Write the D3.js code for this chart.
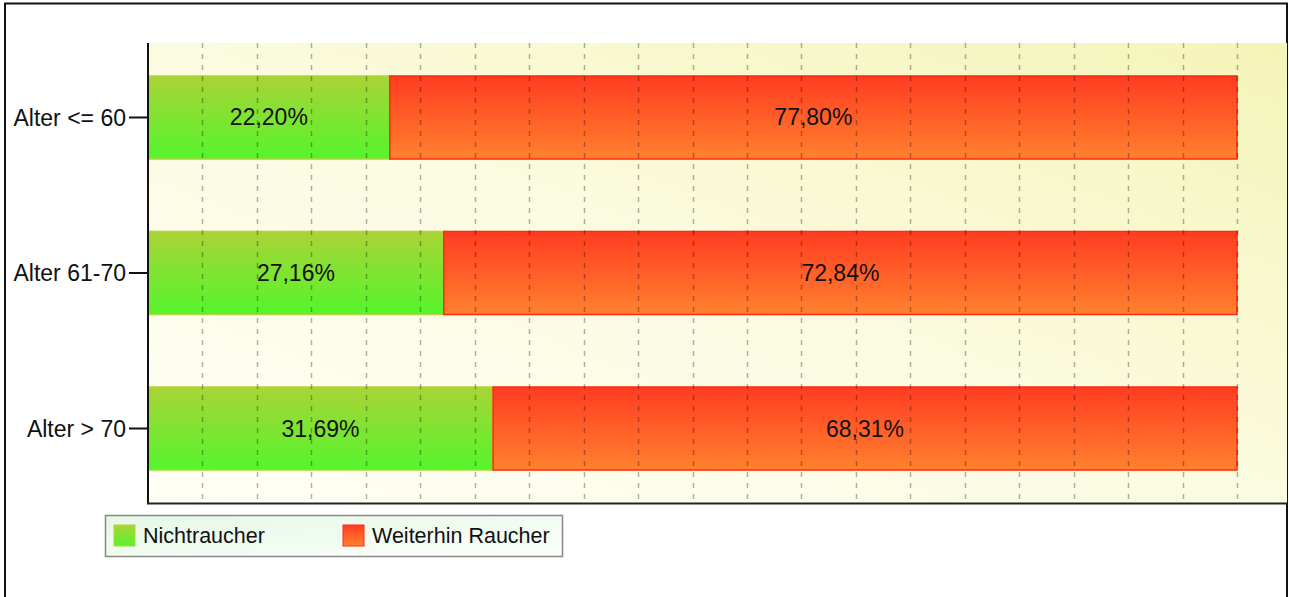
<!DOCTYPE html>
<html>
<head>
<meta charset="utf-8">
<script src="https://cdnjs.cloudflare.com/ajax/libs/d3/7.8.5/d3.min.js"></script>
<style>
  body { margin: 0; background: #fff; }
  text { font-family: "Liberation Sans", Arial, sans-serif; }
</style>
</head>
<body>
<script>
const categories = ["Alter <= 60", "Alter 61-70", "Alter > 70"]; //Rows, top to bottom.
const seriesNames = ["Nichtraucher", "Weiterhin Raucher"];
const nichtraucher = [22.20, 27.16, 31.69];
const weiterhinRaucher = [77.80, 72.84, 68.31];
const gridTicks = [5, 10, 15, 20, 25, 30, 35, 40, 45, 50, 55, 60, 65, 70, 75, 80, 85, 90, 95, 100];

const svgWidth = 1289;
const svgHeight = 597;
const plotLeft = 148;
const plotRight = 1287;
const plotTop = 43;
const plotBottom = 503;

const fmt = v => d3.format(".2f")(v).replace(".", ",") + "%";

let svg = d3.select("body").append("svg")
  .attr("width", svgWidth)
  .attr("height", svgHeight);

let defs = svg.append("defs");

//Background of the plot area, cream to yellow towards top right.
let bg = defs.append("linearGradient").attr("id", "bg")
  .attr("x1", "0").attr("y1", "1").attr("x2", "1").attr("y2", "0");
bg.append("stop").attr("offset", "0").attr("stop-color", "#fffff6");
bg.append("stop").attr("offset", "0.5").attr("stop-color", "#fbfbe0");
bg.append("stop").attr("offset", "1").attr("stop-color", "#f4f4b8");

let gGreen = defs.append("linearGradient").attr("id", "gGreen")
  .attr("x1", "0").attr("y1", "0").attr("x2", "0").attr("y2", "1");
gGreen.append("stop").attr("offset", "0").attr("stop-color", "#a9d336");
gGreen.append("stop").attr("offset", "1").attr("stop-color", "#55f52c");

let gRed = defs.append("linearGradient").attr("id", "gRed")
  .attr("x1", "0").attr("y1", "0").attr("x2", "0").attr("y2", "1");
gRed.append("stop").attr("offset", "0").attr("stop-color", "#ff3c22");
gRed.append("stop").attr("offset", "1").attr("stop-color", "#ff812e");

let legendBg = defs.append("linearGradient").attr("id", "legendBg")
  .attr("x1", "0").attr("y1", "0").attr("x2", "1").attr("y2", "1");
legendBg.append("stop").attr("offset", "0").attr("stop-color", "#e6f8e6");
legendBg.append("stop").attr("offset", "1").attr("stop-color", "#fbfffb");

//Scales.
let xScale = d3.scaleLinear()
  .domain([0, 100])
  .range([plotLeft, 1237]);

let yScale = d3.scaleBand()
  .domain(categories)
  .range([plotTop, plotBottom])
  .paddingInner(0.466)
  .paddingOuter(0.212);

//Outer frame.
svg.append("rect")
  .attr("x", 5).attr("y", 3.5)
  .attr("width", 1282).attr("height", 620)
  .attr("fill", "#fff")
  .attr("stroke", "#111")
  .attr("stroke-width", 2);

//Plot background.
svg.append("rect")
  .attr("x", plotLeft).attr("y", plotTop)
  .attr("width", plotRight - plotLeft).attr("height", plotBottom - plotTop)
  .attr("fill", "url(#bg)");

//Stacked bars.
const series = [
  { name: seriesNames[0], values: nichtraucher, start: categories.map(() => 0), fill: "url(#gGreen)", stroke: "#b3d43a" },
  { name: seriesNames[1], values: weiterhinRaucher, start: nichtraucher, fill: "url(#gRed)", stroke: "#ff2a12" }
];

series.forEach(function(s) {
  let g = svg.append("g");
  g.selectAll("rect")
    .data(categories)
    .enter()
    .append("rect")
    .attr("x", (d, i) => xScale(s.start[i]))
    .attr("y", d => yScale(d))
    .attr("width", (d, i) => xScale(s.start[i] + s.values[i]) - xScale(s.start[i]))
    .attr("height", yScale.bandwidth())
    .attr("fill", s.fill)
    .attr("stroke", s.stroke)
    .attr("stroke-width", 1.5);
});

//Dashed grid lines, drawn over the bars.
svg.append("g")
  .selectAll("line")
  .data(gridTicks)
  .enter()
  .append("line")
  .attr("x1", d => Math.round(xScale(d)) + 0.5)
  .attr("x2", d => Math.round(xScale(d)) + 0.5)
  .attr("y1", plotTop)
  .attr("y2", plotBottom)
  .attr("stroke", "#000")
  .attr("stroke-opacity", 0.3)
  .attr("stroke-width", 1.5)
  .attr("stroke-dasharray", "5,6");

//Percent labels in the middle of each segment.
series.forEach(function(s) {
  svg.append("g")
    .selectAll("text")
    .data(categories)
    .enter()
    .append("text")
    .attr("x", (d, i) => xScale(s.start[i] + s.values[i] / 2))
    .attr("y", d => yScale(d) + yScale.bandwidth() / 2 + 8)
    .attr("text-anchor", "middle")
    .attr("font-size", 23)
    .attr("fill", "#111")
    .text((d, i) => fmt(s.values[i]));
});

//Y axis with category labels.
let yAxis = d3.axisLeft(yScale).tickSize(19).tickPadding(3).tickSizeOuter(0);
let yG = svg.append("g")
  .attr("transform", "translate(" + plotLeft + ",0)")
  .call(yAxis);
yG.select(".domain").remove();
yG.selectAll(".tick line").attr("stroke", "#111").attr("stroke-width", 2);
yG.selectAll(".tick text")
  .attr("font-size", 23)
  .attr("font-family", "Liberation Sans, Arial, sans-serif")
  .attr("fill", "#111")
  .attr("dy", "0.36em");

svg.append("line") //Y axis line.
  .attr("x1", plotLeft).attr("x2", plotLeft)
  .attr("y1", plotTop).attr("y2", plotBottom + 1)
  .attr("stroke", "#111").attr("stroke-width", 2);

svg.append("line") //X axis line.
  .attr("x1", plotLeft - 1).attr("x2", plotRight)
  .attr("y1", plotBottom + 0.5).attr("y2", plotBottom + 0.5)
  .attr("stroke", "#222").attr("stroke-width", 2);

//Legend.
let legend = svg.append("g").attr("transform", "translate(105,515)");
legend.append("rect")
  .attr("x", 0.5).attr("y", 0.5)
  .attr("width", 457).attr("height", 41)
  .attr("fill", "url(#legendBg)")
  .attr("stroke", "#888")
  .attr("stroke-width", 1.5);

let items = legend.selectAll("g.item")
  .data(series)
  .enter()
  .append("g")
  .attr("class", "item")
  .attr("transform", (d, i) => "translate(" + (9 + i * 229) + ",10)");

items.append("rect")
  .attr("width", 21).attr("height", 21)
  .attr("fill", d => d.fill)
  .attr("stroke", d => d.stroke)
  .attr("stroke-width", 1);

items.append("text")
  .attr("x", 29)
  .attr("y", 18)
  .attr("font-size", 21.5)
  .attr("fill", "#111")
  .text(d => d.name);
</script>
</body>
</html>
